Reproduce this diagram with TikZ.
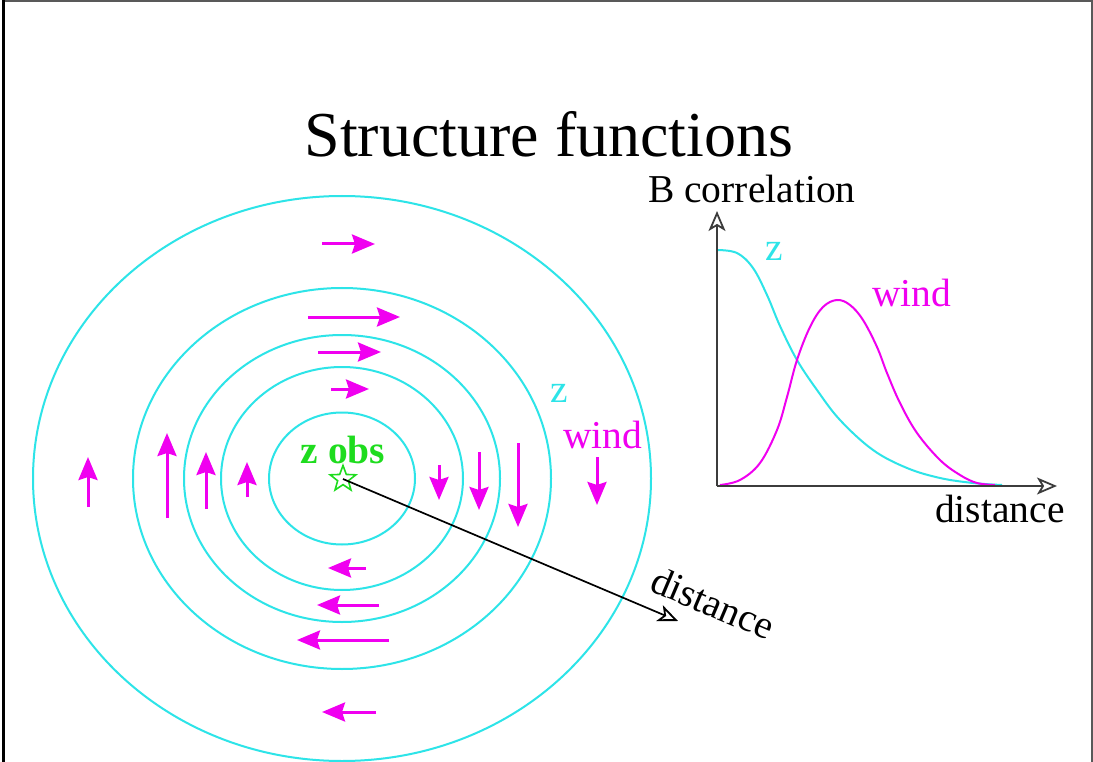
\documentclass[tikz,border=0pt]{standalone}
\usepackage{fontspec}
\setmainfont{Liberation Serif}
\usetikzlibrary{arrows.meta,shapes.geometric}
\definecolor{ringc}{RGB}{45,228,232}
\definecolor{windc}{RGB}{240,0,240}
\definecolor{obsc}{RGB}{30,220,30}
\definecolor{axisc}{RGB}{60,60,60}
\begin{document}
\begin{tikzpicture}[x=1pt,y=-1pt,
  ring/.style={draw=ringc, line width=2pt},
  windarrow/.style={windc, line width=3pt, -{Stealth[length=23pt,width=19pt,inset=3pt]}},
  opentip/.style={-{Stealth[open,length=20pt,width=17pt,inset=5pt,line width=1.8pt]}},
  axisline/.style={axisc, line width=2pt, opentip},
  lbl/.style={font=\fontsize{39.5}{44}\selectfont, inner sep=0pt},
  curve/.style={line width=2pt},
]
\useasboundingbox (0,0) rectangle (1093,762);
\fill[white] (0,0) rectangle (1093,762);
% frame
\draw[gray!70!black, line width=2pt] (3,1.5) -- (1091.5,1.5) -- (1091.5,762);
\draw[black, line width=3pt] (3,0.5) -- (3,762);

% title
\node[inner sep=0pt, font=\fontsize{64}{70}\selectfont, anchor=base] (title) at (549,157) {Structure functions};

% rings
\foreach \rx/\ry in {73/66, 121/111.5, 158/143.5, 209/190.5, 309/282.5}
  \draw[ring] (342,478.5) ellipse [x radius=\rx, y radius=\ry];

% wind arrows: top (to the right)
\draw[windarrow] (322,244) -- (375,244);
\draw[windarrow] (308,317) -- (400,317);
\draw[windarrow] (318,352) -- (381,352);
\draw[windarrow] (331,389) -- (369,389);
% bottom (to the left)
\draw[windarrow] (366,568) -- (328,568);
\draw[windarrow] (379,605) -- (317,605);
\draw[windarrow] (389,640) -- (297,640);
\draw[windarrow] (376,712) -- (322,712);
% left (up)
\draw[windarrow] (88,507) -- (88,457);
\draw[windarrow] (167,518) -- (167,433);
\draw[windarrow] (206,509) -- (206,452);
\draw[windarrow] (247,497) -- (247,462);
% right (down)
\draw[windarrow] (439,465) -- (439,500);
\draw[windarrow] (479,452) -- (479,510);
\draw[windarrow] (518,443) -- (518,527);
\draw[windarrow] (597,457) -- (597,505);

% observation
\node[lbl, text=obsc, font=\fontsize{39.5}{44}\selectfont\bfseries, anchor=base] (zobs) at (343,463) {z obs};
\node[star, star points=5, star point ratio=2.4, draw=obsc, line width=1.6pt, minimum size=27pt, inner sep=0pt] (obs) at (343,479) {};
\coordinate (distend) at (678,621);
\draw[black, line width=1.7pt, opentip] (obs.center) -- (distend);
\node[lbl, rotate=-23, anchor=base west] (distlbl) at (648,590) {distance};
\node[lbl, text=ringc, anchor=base west] (zring) at (550,402) {z};
\node[lbl, text=windc, anchor=base west] (windring) at (563,448) {wind};

% graph
\coordinate (origin) at (717,486);
\coordinate (ytip) at (717,211);
\coordinate (xtip) at (1057,486);
\draw[curve, ringc] plot[smooth, tension=0.6] coordinates {(717,250) (737,253) (753,268) (767,295) (780,326) (797,360) (817,390) (840,420) (873,450) (907,468) (940,478) (973,483) (1002,485)};
\draw[curve, windc] plot[smooth, tension=0.6] coordinates {(720,485) (740,480) (760,463) (777,430) (787,397) (797,360) (810,327) (823,307) (837,300) (850,305) (863,320) (877,347) (887,373) (900,403) (917,433) (940,460) (960,475) (977,483) (995,485)};
\draw[axisline] (origin) -- (ytip);
\draw[axisline] (origin) -- (xtip);
\node[lbl, anchor=base west] (ylabel) at (648,203) {B correlation};
\node[lbl, anchor=base west] (xlabel) at (935,522) {distance};
\node[lbl, text=ringc, anchor=base west] (zcurve) at (765,261) {z};
\node[lbl, text=windc, anchor=base west] (windcurve) at (872,307) {wind};
\end{tikzpicture}
\end{document}
